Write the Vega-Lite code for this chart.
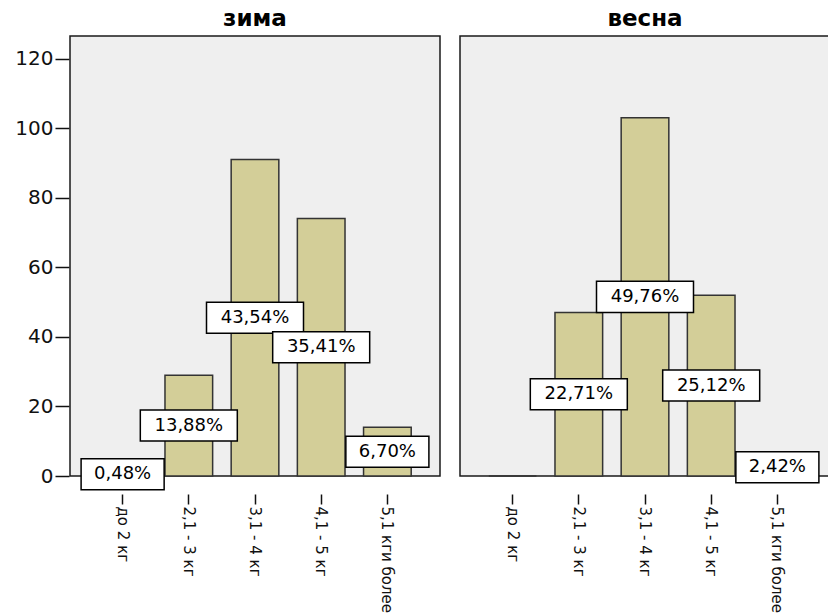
{
  "$schema": "https://vega.github.io/schema/vega-lite/v6.json",
  "padding": {"left": 14, "top": 8, "right": 0, "bottom": 0},
  "background": "white",
  "data": {"values": [
    {"season": "зима", "weight": "до 2 кг", "count": 1, "label": "0,48%"},
    {"season": "зима", "weight": "2,1 - 3 кг", "count": 29, "label": "13,88%"},
    {"season": "зима", "weight": "3,1 - 4 кг", "count": 91, "label": "43,54%"},
    {"season": "зима", "weight": "4,1 - 5 кг", "count": 74, "label": "35,41%"},
    {"season": "зима", "weight": "5,1 кги более", "count": 14, "label": "6,70%"},
    {"season": "весна", "weight": "до 2 кг", "count": 0, "label": ""},
    {"season": "весна", "weight": "2,1 - 3 кг", "count": 47, "label": "22,71%"},
    {"season": "весна", "weight": "3,1 - 4 кг", "count": 103, "label": "49,76%"},
    {"season": "весна", "weight": "4,1 - 5 кг", "count": 52, "label": "25,12%"},
    {"season": "весна", "weight": "5,1 кги более", "count": 5, "label": "2,42%"}
  ]},
  "transform": [{"calculate": "datum.count / 2", "as": "mid"}],
  "facet": {
    "column": {
      "field": "season", "type": "nominal", "sort": ["зима", "весна"],
      "header": {"title": null, "labelFont": "DejaVu Sans", "labelFontSize": 23, "labelFontWeight": "bold", "labelColor": "#000", "labelPadding": 4}
    }
  },
  "spacing": 18,
  "spec": {
    "width": 370,
    "height": 440,
    "encoding": {
      "x": {
        "field": "weight", "type": "ordinal",
        "sort": ["до 2 кг", "2,1 - 3 кг", "3,1 - 4 кг", "4,1 - 5 кг", "5,1 кги более"],
        "scale": {"paddingInner": 0.28, "paddingOuter": 0.435},
        "axis": {"title": null, "labelAngle": 90, "labelAlign": "left", "labelBaseline": "middle", "tickSize": 10, "tickColor": "#111", "tickWidth": 1.5, "domain": false, "labelFont": "DejaVu Sans", "labelFontSize": 15, "labelColor": "#111", "labelPadding": 2}
      }
    },
    "layer": [
      {
        "mark": {"type": "bar", "fill": "#d3ce98", "stroke": "#333", "strokeWidth": 1.5},
        "encoding": {
          "y": {
            "field": "count", "type": "quantitative",
            "scale": {"domain": [0, 126.5], "nice": false},
            "axis": {"title": null, "values": [0, 20, 40, 60, 80, 100, 120], "grid": false, "domain": false, "tickSize": 14, "tickColor": "#111", "tickWidth": 1.5, "labelFont": "DejaVu Sans", "labelFontSize": 20, "labelColor": "#111", "labelPadding": 2}
          }
        }
      },
      {
        "transform": [{"filter": "datum.count > 0"}],
        "mark": {"type": "point", "filled": true, "fill": "white", "stroke": "#000", "strokeWidth": 1.5, "opacity": 1, "size": 9409},
        "encoding": {
          "y": {"field": "mid", "type": "quantitative"},
          "shape": {
            "condition": {"test": "length(datum.label) > 5", "value": "M-1,-0.32L1,-0.32L1,0.32L-1,0.32Z"},
            "value": "M-0.856,-0.32L0.856,-0.32L0.856,0.32L-0.856,0.32Z"
          }
        }
      },
      {
        "transform": [{"filter": "datum.count > 0"}],
        "mark": {"type": "text", "font": "DejaVu Sans", "fontSize": 18, "color": "#000", "baseline": "middle", "align": "center"},
        "encoding": {
          "y": {"field": "mid", "type": "quantitative"},
          "text": {"field": "label"}
        }
      }
    ]
  },
  "config": {
    "view": {"fill": "#efefef", "stroke": "#1a1a1a", "strokeWidth": 1.5}
  }
}
